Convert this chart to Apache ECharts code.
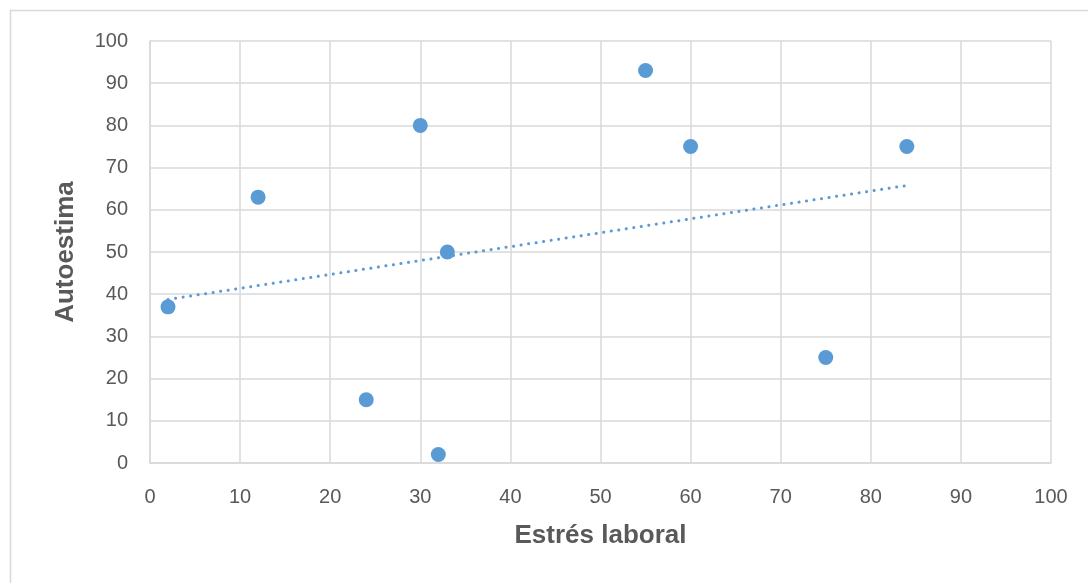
<!DOCTYPE html>
<html>
<head>
<meta charset="utf-8">
<script src="https://cdn.jsdelivr.net/npm/echarts@6/dist/echarts.min.js"></script>
<style>
  html, body { margin: 0; padding: 0; background: #ffffff; }
  #chart { width: 1088px; height: 583px; }
</style>
</head>
<body>
<div id="chart"></div>
<script>
// Estrés laboral (x) vs. Autoestima (y)
const estres = [2, 12, 24, 30, 32, 33, 55, 60, 75, 84];
const autoestima = [37, 63, 15, 80, 2, 50, 93, 75, 25, 75];
const xTitle = 'Estrés laboral';
const yTitle = 'Autoestima';

const points = estres.map((x, i) => [x, autoestima[i]]);

// Least-squares linear trendline across the observed x range
const n = estres.length;
const mx = estres.reduce((a, b) => a + b, 0) / n;
const my = autoestima.reduce((a, b) => a + b, 0) / n;
let sxy = 0, sxx = 0;
for (let i = 0; i < n; i++) {
  sxy += (estres[i] - mx) * (autoestima[i] - my);
  sxx += (estres[i] - mx) * (estres[i] - mx);
}
const slope = sxy / sxx;
const intercept = my - slope * mx;
const xMin = Math.min(...estres), xMax = Math.max(...estres);
const trend = [[xMin, intercept + slope * xMin], [xMax, intercept + slope * xMax]];

const FONT = '"Liberation Sans", "Open Sans", sans-serif';
const chart = echarts.init(document.getElementById('chart'), null, { renderer: 'canvas' });
chart.setOption({
  animation: false,
  backgroundColor: '#ffffff',
  graphic: [{
    type: 'rect',
    shape: { x: 10.5, y: 10.5, width: 1090, height: 600 },
    style: { fill: 'none', stroke: '#d9d9d9', lineWidth: 1.5 },
    silent: true
  }],
  grid: { left: 150, right: 37, top: 41, bottom: 120 },
  xAxis: {
    type: 'value', min: 0, max: 100, interval: 10,
    name: xTitle, nameLocation: 'middle', nameGap: 60,
    nameTextStyle: { fontFamily: FONT, fontSize: 26, fontWeight: 'bold', color: '#595959' },
    axisLine: { show: true, lineStyle: { color: '#d9d9d9', width: 1.5 } },
    axisTick: { show: false },
    axisLabel: { fontFamily: FONT, fontSize: 20, color: '#595959', margin: 24 },
    splitLine: { show: true, lineStyle: { color: '#d9d9d9', width: 1.5 } }
  },
  yAxis: {
    type: 'value', min: 0, max: 100, interval: 10,
    name: yTitle, nameLocation: 'middle', nameGap: 71,
    nameTextStyle: { fontFamily: FONT, fontSize: 26, fontWeight: 'bold', color: '#595959' },
    axisLine: { show: true, lineStyle: { color: '#d9d9d9', width: 1.5 } },
    axisTick: { show: false },
    axisLabel: { fontFamily: FONT, fontSize: 20, color: '#595959', margin: 22 },
    splitLine: { show: true, lineStyle: { color: '#d9d9d9', width: 1.5 } }
  },
  series: [
    {
      type: 'line',
      data: trend,
      symbol: 'none',
      lineStyle: { color: '#5b9bd5', width: 3, type: [0.1, 7.5], cap: 'round' },
      z: 2
    },
    {
      type: 'scatter',
      data: points,
      symbol: 'circle',
      symbolSize: 15,
      itemStyle: { color: '#5b9bd5', opacity: 1 },
      z: 3
    }
  ]
});
</script>
</body>
</html>
